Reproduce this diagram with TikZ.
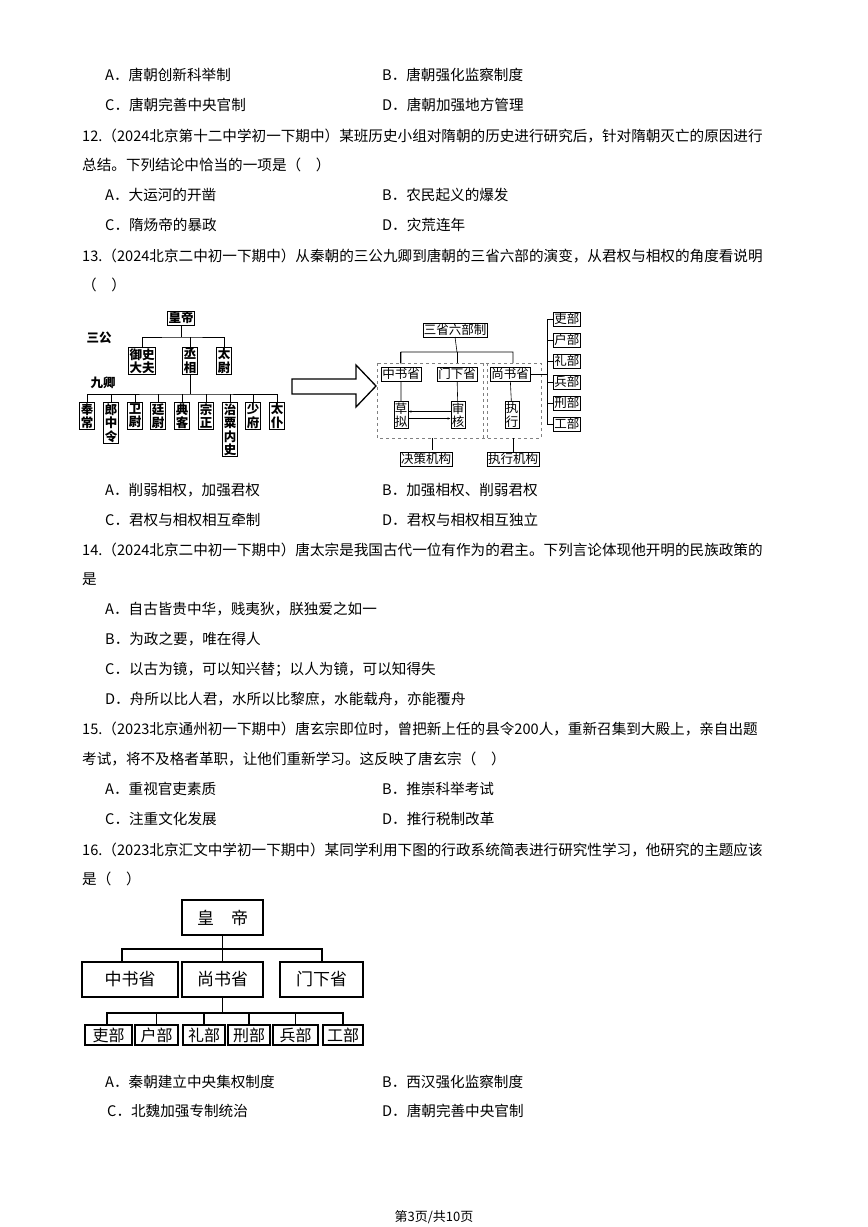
\documentclass[tikz,border=0pt]{standalone}
\usepackage{fontspec}
\newfontfamily\cjk{Noto Sans CJK SC}
\usetikzlibrary{arrows.meta,positioning}
\begin{document}
\begin{tikzpicture}[x=1pt,y=-1pt,
  txt/.style={anchor=west, inner sep=0pt, font=\cjk\fontsize{14.6}{16}\selectfont},
  qbox/.style={draw, inner sep=1pt, font=\cjk\bfseries\fontsize{12.5}{13.5}\selectfont, align=center, line width=0.6pt},
  tbox/.style={draw, inner sep=1pt, font=\cjk\fontsize{12.5}{13.5}\selectfont, align=center, line width=0.5pt},
  hbox/.style={draw, line width=1.4pt, font=\cjk\fontsize{17}{18}\selectfont, inner sep=0pt},
  link/.style={line width=0.6pt},
  arrow/.style={-{Stealth[length=3pt]}, line width=0.5pt},
]
\useasboundingbox (0,0) rectangle (868,1227);
\fill[white] (0,0) rectangle (868,1227);

% text lines
\node[txt] (a11) at (105,75) {A．唐朝创新科举制};
\node[txt] (b11) at (382,75) {B．唐朝强化监察制度};
\node[txt] (c11) at (105,105) {C．唐朝完善中央官制};
\node[txt] (d11) at (382,105) {D．唐朝加强地方管理};
\node[txt] (q12) at (82,136) {12.（2024北京第十二中学初一下期中）某班历史小组对隋朝的历史进行研究后，针对隋朝灭亡的原因进行};
\node[txt] (q12b) at (82,165) {总结。下列结论中恰当的一项是（\quad）};
\node[txt] (a12) at (105,195) {A．大运河的开凿};
\node[txt] (b12) at (382,195) {B．农民起义的爆发};
\node[txt] (c12) at (105,225) {C．隋炀帝的暴政};
\node[txt] (d12) at (382,225) {D．灾荒连年};
\node[txt] (q13) at (82,256) {13.（2024北京二中初一下期中）从秦朝的三公九卿到唐朝的三省六部的演变，从君权与相权的角度看说明};
\node[txt] (q13b) at (82,285) {（\quad）};
\node[txt] (a13) at (105,490) {A．削弱相权，加强君权};
\node[txt] (b13) at (382,490) {B．加强相权、削弱君权};
\node[txt] (c13) at (105,520) {C．君权与相权相互牵制};
\node[txt] (d13) at (382,520) {D．君权与相权相互独立};
\node[txt] (q14) at (82,550) {14.（2024北京二中初一下期中）唐太宗是我国古代一位有作为的君主。下列言论体现他开明的民族政策的};
\node[txt] (q14b) at (82,579) {是};
\node[txt] (a14) at (105,609) {A．自古皆贵中华，贱夷狄，朕独爱之如一};
\node[txt] (b14) at (105,639) {B．为政之要，唯在得人};
\node[txt] (c14) at (105,669) {C．以古为镜，可以知兴替；以人为镜，可以知得失};
\node[txt] (d14) at (105,699) {D．舟所以比人君，水所以比黎庶，水能载舟，亦能覆舟};
\node[txt] (q15) at (82,729) {15.（2023北京通州初一下期中）唐玄宗即位时，曾把新上任的县令200人，重新召集到大殿上，亲自出题};
\node[txt] (q15b) at (82,759) {考试，将不及格者革职，让他们重新学习。这反映了唐玄宗（\quad）};
\node[txt] (a15) at (105,789) {A．重视官吏素质};
\node[txt] (b15) at (382,789) {B．推崇科举考试};
\node[txt] (c15) at (105,819) {C．注重文化发展};
\node[txt] (d15) at (382,819) {D．推行税制改革};
\node[txt] (q16) at (82,850) {16.（2023北京汇文中学初一下期中）某同学利用下图的行政系统简表进行研究性学习，他研究的主题应该};
\node[txt] (q16b) at (82,879) {是（\quad）};
\node[txt] (a16) at (105,1082) {A．秦朝建立中央集权制度};
\node[txt] (b16) at (382,1082) {B．西汉强化监察制度};
\node[txt] (c16) at (107,1111) {C．北魏加强专制统治};
\node[txt] (d16) at (382,1111) {D．唐朝完善中央官制};
\node[font=\cjk\fontsize{13}{14}\selectfont] (pg) at (434,1217) {第3页/共10页};

% Qin: san gong jiu qing
\node[qbox] (hd) at (181,318) {皇帝};
\node[font=\cjk\bfseries\fontsize{12.5}{13}\selectfont] (sg) at (99,338) {三公};
\node[font=\cjk\bfseries\fontsize{12.5}{13}\selectfont] (jq) at (103,383) {九卿};
\node[qbox, anchor=north] (ysdf) at (142,347) {御史\\大夫};
\node[qbox, anchor=north] (cx) at (190,347) {丞\\相};
\node[qbox, anchor=north] (tw) at (224,347) {太\\尉};
\draw[link] (hd.south) -- (181,337) (ysdf.north) |- (181,337) -| (tw.north) (cx.north) -- (190,337);
\foreach \x/\t [count=\i] in {87/奉\\常, 111/郎\\中\\令, 135/卫\\尉, 158/廷\\尉, 182/典\\客, 206/宗\\正, 230/治\\粟\\内\\史, 253/少\\府, 277/太\\仆}
  \node[qbox, anchor=north] (jq\i) at (\x,402) {\t};
\draw[link] (cx.south) -- (190,394) (jq1.north) |- (190,394) -| (jq9.north);
\foreach \i in {2,...,8}
  \draw[link] (jq\i.north) -- ++(0,-8);

% big arrow
\draw[line width=1.3pt, fill=white] (292,379) -- (356,379) -- (356,365) -- (376,386) -- (356,407) -- (356,394) -- (292,394) -- cycle;

% Tang: san sheng liu bu
\node[tbox] (ssl) at (455,330) {三省六部制};
\draw[dashed, gray, line width=0.7pt] (377,363) rectangle (541,438);
\draw[dashed, gray, line width=0.5pt] (483,363) -- (483,438) (487,363) -- (487,438);
\node[tbox] (zsx) at (401,374) {中书省};
\node[tbox] (mxs) at (457,374) {门下省};
\node[tbox] (ssx) at (510,374) {尚书省};
\node[tbox] (cn) at (401,415) {草\\拟};
\node[tbox] (sh) at (458,415) {审\\核};
\node[tbox] (zx) at (512,415) {执\\行};
\draw[link] (ssl.south) -- (457,352) (zsx.north) ++(0,-3) |- (457,352) -| (513,363);
\draw[link] (400,352) -- (400,363) (457,352) -- (457,363);
\draw[link] (zsx) -- (cn) (mxs) -- (sh) (ssx) -- (zx);
\draw[arrow] ([yshift=-3.5pt]cn.east) -- ([yshift=-3.5pt]sh.west);
\draw[arrow] ([yshift=3.5pt]sh.west) -- ([yshift=3.5pt]cn.east);
\node[tbox] (jcjg) at (426,459) {决策机构};
\node[tbox] (zxjg) at (513,459) {执行机构};
\draw[link] (432,438) -- (432,450);
\draw[link] (513,438) -- (zxjg.north);
\foreach \t [count=\i] in {吏部,户部,礼部,兵部,刑部,工部}
  \node[tbox, anchor=west] (lb\i) at (553,298+21*\i) {\t};
\draw[link] (lb1.west) -- (547,319) -- (547,424) -- (lb6.west);
\foreach \i in {2,...,5}
  \draw[link] (lb\i.west) -- ++(-6,0);
\draw[link] (ssx.east) -- (547,374);

% Q16 chart
\node[hbox, minimum width=81pt, minimum height=35pt] (hd2) at (222.5,917.5) {皇\quad 帝};
\node[hbox, minimum width=96pt, minimum height=35pt] (zs2) at (130,979.5) {中书省};
\node[hbox, minimum width=81pt, minimum height=35pt] (ss2) at (222.5,979.5) {尚书省};
\node[hbox, minimum width=83pt, minimum height=35pt] (mx2) at (321.5,979.5) {门下省};
\draw[line width=1.4pt] (hd2.south) -- (222.5,949) (122,962) |- (222.5,949) -| (322,962);
\draw[line width=1.4pt] (222.5,949) -- (ss2.north);
\foreach \x/\w/\t [count=\i] in {108.5/47/吏部, 156.5/43/户部, 204/42/礼部, 249/42/刑部, 295.5/45/兵部, 343/40/工部}
  \node[hbox, minimum width=\w pt, minimum height=20pt, font=\cjk\fontsize{16}{17}\selectfont] (bu\i) at (\x,1035) {\t};
\draw[line width=1.4pt] (ss2.south) -- (222.5,1013) (107,1025) |- (222.5,1013) -| (343,1025);
\foreach \x in {156.5,204,249,295.5}
  \draw[line width=1.4pt] (\x,1013) -- (\x,1025);
\end{tikzpicture}
\end{document}
